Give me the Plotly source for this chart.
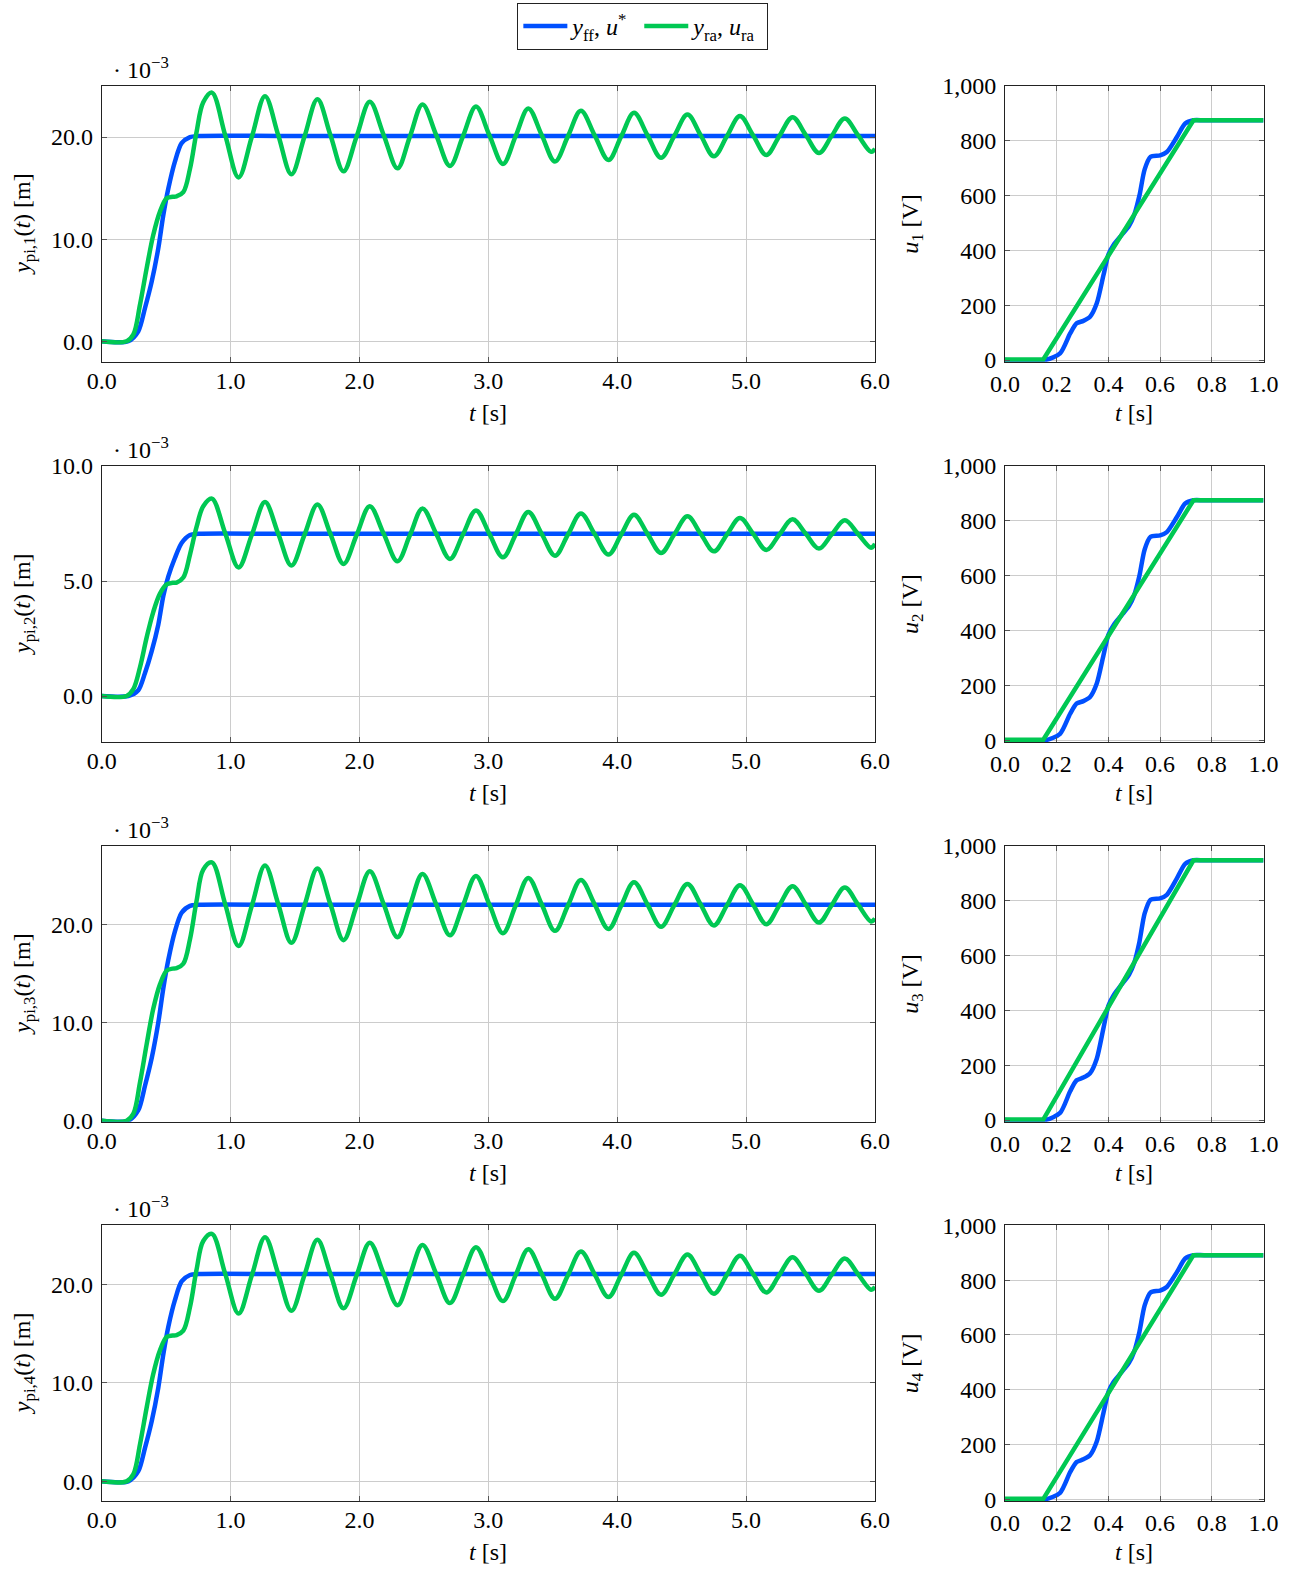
import plotly.graph_objects as go

# ---------------- data ----------------
# left panels: feedforward (blue) position y_ff, time base
t_ff = [0, 0.206, 0.284, 0.336, 0.388, 0.439, 0.478, 0.517, 0.568, 0.62, 0.685, 0.75, 1.5, 6.0]
y_ff_1 = [0, 0, 0.98, 3.26, 5.85, 9.1, 12.36, 14.96, 17.6, 19.4, 20.0, 20.1, 20.1, 20.1]
y_ff_2 = [0, 0, 0.25, 1.0, 1.95, 3.1, 4.35, 5.2, 6.0, 6.65, 7.0, 7.05, 7.05, 7.05]
y_ff_3 = [0, 0, 1.07, 3.57, 6.4, 10.0, 13.5, 16.4, 19.3, 21.2, 21.9, 22.0, 22.0, 22.0]
y_ff_4 = [0, 0, 1.03, 3.4, 6.1, 9.5, 12.9, 15.7, 18.4, 20.3, 20.95, 21.05, 21.05, 21.05]

# left panels: response (green) y_ra
t_ra = [0, 0.193, 0.245, 0.297, 0.349, 0.40, 0.452, 0.504, 0.55, 0.581, 0.633, 0.685, 0.736, 0.788,
        0.855, 0.958, 1.062, 1.165, 1.267, 1.37, 1.472, 1.573, 1.674, 1.775, 1.876, 1.978,
        2.08, 2.188, 2.295, 2.392, 2.489, 2.596, 2.702, 2.803, 2.904, 3.008, 3.113, 3.212,
        3.31, 3.414, 3.517, 3.618, 3.718, 3.825, 3.932, 4.031, 4.13, 4.235, 4.34, 4.442,
        4.545, 4.648, 4.75, 4.851, 4.952, 5.055, 5.157, 5.258, 5.36, 5.463, 5.565, 5.665,
        5.766, 5.868, 5.97, 6.0]
y_ra_1 = [0, 0, 0.65, 3.58, 7.16, 10.4, 12.7, 14.0, 14.15, 14.2, 14.6, 16.9, 20.5, 23.4,
          24.35, 20.2, 16.05, 20.03, 24.0, 20.18, 16.36, 20.03, 23.7, 20.18, 16.65, 20.05,
          23.45, 20.2, 16.94, 20.07, 23.19, 20.18, 17.17, 20.08, 22.99, 20.18, 17.37, 20.09,
          22.8, 20.2, 17.6, 20.09, 22.57, 20.17, 17.76, 20.07, 22.37, 20.18, 17.98, 20.09,
          22.2, 20.16, 18.11, 20.08, 22.05, 20.15, 18.24, 20.1, 21.95, 20.2, 18.44, 20.13,
          21.82, 20.19, 18.55, 18.85]
y_ra_2 = [0, 0, 0.3, 1.25, 2.55, 3.65, 4.45, 4.85, 4.92, 4.93, 5.15, 6.15, 7.35, 8.25,
          8.58, 7.08, 5.59, 7.01, 8.43, 7.05, 5.67, 7.0, 8.33, 7.04, 5.74, 7.0,
          8.25, 7.05, 5.86, 7.0, 8.15, 7.05, 5.96, 7.02, 8.07, 7.05, 6.03, 7.02,
          8.0, 7.05, 6.1, 7.02, 7.93, 7.04, 6.15, 7.02, 7.88, 7.05, 6.22, 7.02,
          7.81, 7.05, 6.29, 7.02, 7.74, 7.05, 6.35, 7.02, 7.68, 7.05, 6.41, 7.03,
          7.64, 7.05, 6.45, 6.62]
y_ra_3 = [0, 0, 0.7, 3.9, 7.8, 11.4, 13.9, 15.3, 15.5, 15.55, 16.0, 18.5, 22.4, 25.6,
          26.34, 22.08, 17.82, 21.91, 26.0, 22.07, 18.13, 21.92, 25.7, 22.05, 18.4, 21.92,
          25.43, 22.07, 18.7, 21.93, 25.15, 22.03, 18.9, 21.93, 24.95, 22.03, 19.11, 21.93,
          24.75, 22.05, 19.35, 21.95, 24.54, 22.05, 19.55, 21.93, 24.31, 22.04, 19.76, 21.95,
          24.13, 22.02, 19.9, 21.95, 24.0, 22.02, 20.03, 21.97, 23.9, 22.05, 20.2, 21.99,
          23.77, 22.04, 20.3, 20.6]
y_ra_4 = [0, 0, 0.7, 3.75, 7.5, 10.9, 13.3, 14.65, 14.8, 14.85, 15.3, 17.7, 21.5, 24.4,
          25.13, 21.09, 17.04, 20.92, 24.79, 21.05, 17.31, 20.92, 24.52, 21.05, 17.58, 20.91,
          24.24, 21.07, 17.89, 20.95, 24.01, 21.06, 18.1, 20.94, 23.78, 21.04, 18.3, 20.94,
          23.57, 21.06, 18.54, 20.94, 23.33, 21.02, 18.71, 20.96, 23.2, 21.08, 18.95, 20.99,
          23.03, 21.04, 19.05, 20.98, 22.9, 21.04, 19.18, 20.97, 22.76, 21.06, 19.35, 20.99,
          22.62, 21.04, 19.45, 19.75]

# right panels: input voltages
t_u_ff = [0, 0.155, 0.213, 0.252, 0.277, 0.303, 0.329, 0.355, 0.381, 0.40, 0.42, 0.45,
          0.48, 0.50, 0.52, 0.54, 0.563, 0.60, 0.626, 0.665, 0.697, 0.729, 0.77, 1.0]
u_ff_1 = [0, 0, 24, 97, 134, 143, 158, 207, 310, 385, 420, 455, 490, 530, 600, 695, 742, 747, 759, 814, 863, 875, 875, 875]
u_ff_2 = [0, 0, 24, 97, 134, 143, 158, 207, 310, 385, 420, 455, 490, 530, 600, 695, 742, 747, 759, 814, 863, 875, 875, 875]
u_ff_3 = [0, 0, 26, 105, 145, 155, 171, 224, 336, 417, 455, 493, 531, 574, 650, 753, 804, 809, 822, 882, 935, 948, 948, 948]
u_ff_4 = [0, 0, 24, 99, 136, 146, 161, 211, 316, 392, 428, 463, 499, 540, 611, 707, 755, 762, 775, 829, 879, 891, 891, 891]

t_u_ra = [0, 0.148, 0.729, 1.0]
u_ra_1 = [2, 2, 875, 875]
u_ra_2 = [2, 2, 875, 875]
u_ra_3 = [2, 2, 948, 948]
u_ra_4 = [2, 2, 891, 891]

left_ylabels = ["<i>y</i><sub>pi,1</sub>(<i>t</i>) [m]", "<i>y</i><sub>pi,2</sub>(<i>t</i>) [m]",
                "<i>y</i><sub>pi,3</sub>(<i>t</i>) [m]", "<i>y</i><sub>pi,4</sub>(<i>t</i>) [m]"]
right_ylabels = ["<i>u</i><sub>1</sub> [V]", "<i>u</i><sub>2</sub> [V]",
                 "<i>u</i><sub>3</sub> [V]", "<i>u</i><sub>4</sub> [V]"]
left_yranges = [[-2, 25], [-2, 10], [-0.1, 28], [-2, 26]]
left_yticks = [[0, 10, 20], [0, 5, 10], [0, 10, 20], [0, 10, 20]]
legend_names = ["<i>y</i><sub>ff</sub>, <i>u</i><sup>*</sup> ", "<i>y</i><sub>ra</sub>, <i>u</i><sub>ra</sub> "]

y_ff = [y_ff_1, y_ff_2, y_ff_3, y_ff_4]
y_ra = [y_ra_1, y_ra_2, y_ra_3, y_ra_4]
u_ff = [u_ff_1, u_ff_2, u_ff_3, u_ff_4]
u_ra = [u_ra_1, u_ra_2, u_ra_3, u_ra_4]

# ---------------- styling / layout ----------------
BLUE = "#0050ff"
GREEN = "#00c853"
FONT = "Liberation Serif"
FS = 24
W, H = 1300, 1571
LEFT = (101.7, 875.0)
RIGHT = (1005.0, 1263.5)
ROWS = [(86.0, 361.7), (466.0, 742.0), (846.0, 1121.7), (1225.3, 1501.0)]
LW = 4.5

fig = go.Figure()
layout = dict(width=W, height=H, margin=dict(l=0, r=0, t=0, b=0),
              plot_bgcolor="white", paper_bgcolor="white",
              font=dict(family=FONT, size=FS, color="black"))
annotations = []


def yfrac(px):
    return 1 - px / H


def axis_common():
    return dict(showline=True, linecolor="#222", linewidth=1, mirror="ticks",
                ticks="inside", ticklen=5, tickcolor="#555", tickwidth=1,
                showgrid=True, gridcolor="#cccccc", gridwidth=1, zeroline=False,
                automargin=False, tickfont=dict(family=FONT, size=FS))


for r in range(4):
    li, ri = 2 * r + 1, 2 * r + 2
    top, bot = ROWS[r]
    ydom = [yfrac(bot), yfrac(top)]
    xl = "x" if li == 1 else f"x{li}"
    yl = "y" if li == 1 else f"y{li}"
    xr, yr = f"x{ri}", f"y{ri}"

    fig.add_trace(go.Scatter(x=t_ff, y=y_ff[r], mode="lines", xaxis=xl, yaxis=yl,
                             line=dict(color=BLUE, width=LW, shape="spline", smoothing=0.8),
                             name=legend_names[0], showlegend=(r == 0), legendrank=1))
    fig.add_trace(go.Scatter(x=t_ra, y=y_ra[r], mode="lines", xaxis=xl, yaxis=yl,
                             line=dict(color=GREEN, width=LW, shape="spline", smoothing=1.0),
                             name=legend_names[1], showlegend=(r == 0), legendrank=2))
    fig.add_trace(go.Scatter(x=t_u_ff, y=u_ff[r], mode="lines", xaxis=xr, yaxis=yr,
                             line=dict(color=BLUE, width=LW, shape="spline", smoothing=0.7),
                             showlegend=False))
    fig.add_trace(go.Scatter(x=t_u_ra, y=u_ra[r], mode="lines", xaxis=xr, yaxis=yr,
                             line=dict(color=GREEN, width=LW),
                             showlegend=False))

    kx = "xaxis" if li == 1 else f"xaxis{li}"
    ky = "yaxis" if li == 1 else f"yaxis{li}"
    layout[kx] = dict(axis_common(), domain=[LEFT[0] / W, LEFT[1] / W], anchor=yl,
                      range=[0, 6], tickvals=[0, 1, 2, 3, 4, 5, 6], tickformat=".1f",
                      ticklabelstandoff=-3)
    layout[ky] = dict(axis_common(), domain=ydom, anchor=xl,
                      range=left_yranges[r], tickvals=left_yticks[r], tickformat=".1f",
                      ticklabelstandoff=3)
    layout[f"xaxis{ri}"] = dict(axis_common(), domain=[RIGHT[0] / W, RIGHT[1] / W], anchor=yr,
                                range=[0, 1], tickvals=[0, 0.2, 0.4, 0.6, 0.8, 1.0], tickformat=".1f",
                                ticklabelstandoff=0)
    layout[f"yaxis{ri}"] = dict(axis_common(), domain=ydom, anchor=xr,
                                range=[-6, 1000], tickvals=[0, 200, 400, 600, 800, 1000], tickformat=",d",
                                ticklabelstandoff=3)

    # axis titles
    annotations.append(dict(text="<i>t</i> [s]", xref="paper", yref="paper",
                            x=(LEFT[0] + LEFT[1]) / 2 / W, y=yfrac(bot + 51),
                            xanchor="center", yanchor="middle", showarrow=False))
    annotations.append(dict(text="<i>t</i> [s]", xref="paper", yref="paper",
                            x=(RIGHT[0] + RIGHT[1]) / 2 / W, y=yfrac(bot + 51),
                            xanchor="center", yanchor="middle", showarrow=False))
    annotations.append(dict(text=left_ylabels[r], xref="paper", yref="paper",
                            x=24 / W, y=yfrac((top + bot) / 2), textangle=-90,
                            xanchor="center", yanchor="middle", showarrow=False))
    annotations.append(dict(text=right_ylabels[r], xref="paper", yref="paper",
                            x=912 / W, y=yfrac((top + bot) / 2), textangle=-90,
                            xanchor="center", yanchor="middle", showarrow=False))
    annotations.append(dict(text="\u00b7 10<sup>\u22123</sup>", xref="paper", yref="paper",
                            x=111 / W, y=yfrac(top - 1), xanchor="left", yanchor="bottom",
                            showarrow=False))

layout["annotations"] = annotations
layout["legend"] = dict(orientation="h", x=0.4945, xanchor="center", y=yfrac(3), yanchor="top",
                        bordercolor="#222", borderwidth=1, bgcolor="white",
                        font=dict(family=FONT, size=FS), itemwidth=44, tracegroupgap=0)
fig.update_layout(**layout)
fig.write_html("out.html")
